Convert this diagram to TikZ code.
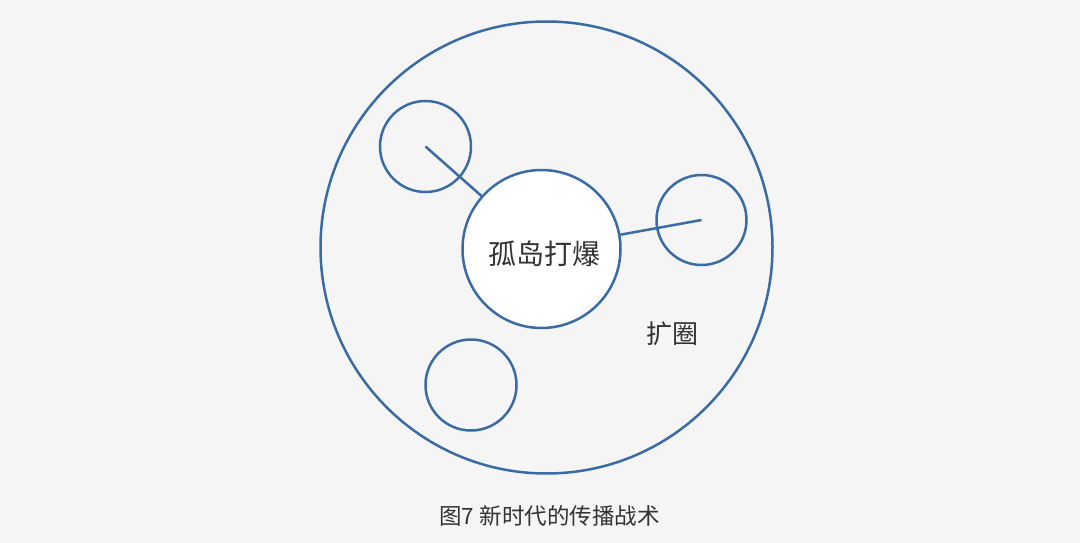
\documentclass[tikz,border=0pt]{standalone}
\usepackage{fontspec}
\setmainfont{Noto Sans CJK SC}
\usetikzlibrary{positioning}
\definecolor{ringblue}{HTML}{3A6BA5}
\definecolor{bggray}{HTML}{F5F5F5}
\definecolor{txtgray}{HTML}{333333}

\begin{document}
\begin{tikzpicture}[x=1pt, y=-1pt,
  ring/.style = {circle, draw=ringblue, line width=2.5pt, inner sep=0pt},
  label text/.style = {text=txtgray, inner sep=0pt}]
\fill[bggray] (0,0) rectangle (1080,543);
\useasboundingbox (0,0) rectangle (1080,543);
\node[ring, minimum size=452pt] (outer) at (546.5,247.5) {};
\node[ring, minimum size=91pt] (isleA) at (425.5,146.5) {};
\node[ring, minimum size=90pt] (isleB) at (701.5,220) {};
\node[ring, minimum size=91pt] (isleC) at (471,385) {};
\node[ring, fill=white, minimum size=158pt] (hub) at (541.5,249) {};
\draw[ringblue, line width=2.5pt] (isleA.center) -- (hub);
\draw[ringblue, line width=2.5pt] (isleB.center) -- (hub);
\node[label text, font=\fontsize{28}{30}\selectfont] (hubtext) at (544,254) {孤岛打爆};
\node[label text, font=\fontsize{26}{30}\selectfont] (grow) at (672,334) {扩圈};
\node[label text, font=\fontsize{22.5}{24}\selectfont] (caption) at (549.5,516) {图7 新时代的传播战术};
\end{tikzpicture}
\end{document}
